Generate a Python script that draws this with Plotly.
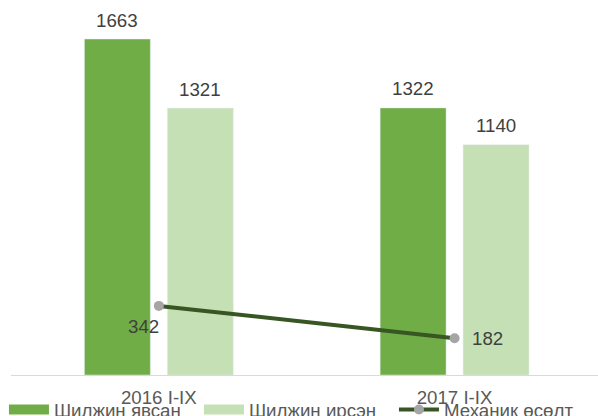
import plotly.graph_objects as go

categories = ["2016 I-IX", "2017 I-IX"]
left_vals = [1663, 1322]      # Шилжин явсан
arrived_vals = [1321, 1140]   # Шилжин ирсэн
growth_vals = [342, 182]      # Механик өсөлт
series_names = ["Шилжин явсан", "Шилжин ирсэн", "Механик өсөлт"]

DARK = "#70AD47"
LIGHT = "#C5E0B4"
LINE = "#375623"
MARK = "#A5A5A5"
FONT = "Arial, Liberation Sans, sans-serif"
FS = 18.7

fig = go.Figure()
fig.add_trace(go.Bar(x=categories, y=left_vals, name=series_names[0],
                     marker=dict(color=DARK), showlegend=False))
fig.add_trace(go.Bar(x=categories, y=arrived_vals, name=series_names[1],
                     marker=dict(color=LIGHT), showlegend=False))
fig.add_trace(go.Scatter(x=categories, y=growth_vals, name=series_names[2],
                         mode="lines+markers", showlegend=False,
                         line=dict(color=LINE, width=4),
                         marker=dict(color=MARK, size=10)))
# legend entries
fig.add_trace(go.Scatter(x=[None], y=[None], mode="lines", name=series_names[0],
                         line=dict(color=DARK, width=10)))
fig.add_trace(go.Scatter(x=[None], y=[None], mode="lines", name=series_names[1],
                         line=dict(color=LIGHT, width=10)))
fig.add_trace(go.Scatter(x=[None], y=[None], mode="lines+markers", name=series_names[2],
                         line=dict(color=LINE, width=4), marker=dict(color=MARK, size=10)))

annotations = []
for c, v in zip(categories, left_vals):
    annotations.append(dict(x=c, y=v, text=str(v), showarrow=False, xshift=-41.5,
                            yshift=19, yanchor="middle", xanchor="center"))
for c, v in zip(categories, arrived_vals):
    annotations.append(dict(x=c, y=v, text=str(v), showarrow=False, xshift=41.5,
                            yshift=19, yanchor="middle", xanchor="center"))
growth_shifts = [(-15.5, -21), (32.5, 0)]
for c, v, (dx, dy) in zip(categories, growth_vals, growth_shifts):
    annotations.append(dict(x=c, y=v, text=str(v), showarrow=False, xshift=dx,
                            yshift=dy, yanchor="middle", xanchor="center"))
for a in annotations:
    a["font"] = dict(family=FONT, size=FS, color="#404040")

fig.update_layout(
    width=598, height=416,
    margin=dict(l=10.5, r=0, t=0, b=41, autoexpand=False),
    paper_bgcolor="white", plot_bgcolor="white",
    barmode="group", bargap=0.439, bargroupgap=0.205,
    font=dict(family=FONT, size=FS, color="#595959"),
    xaxis=dict(range=[-0.5, 1.485], showline=True, linecolor="#D9D9D9", linewidth=1,
               showgrid=False, zeroline=False, ticks="", ticklabelstandoff=6,
               tickfont=dict(family=FONT, size=FS, color="#595959")),
    yaxis=dict(range=[0, 1856], visible=False, showgrid=False, zeroline=False),
    legend=dict(orientation="h", x=-0.012, xanchor="left", y=-0.093, yanchor="middle",
                itemwidth=40, entrywidth=140, entrywidthmode="pixels",
                font=dict(family=FONT, size=FS, color="#595959"),
                bgcolor="rgba(0,0,0,0)", traceorder="normal"),
    annotations=annotations,
    showlegend=True,
)

fig.write_html("out.html", config={"displayModeBar": False},
               post_script="document.body.style.margin='0';")
